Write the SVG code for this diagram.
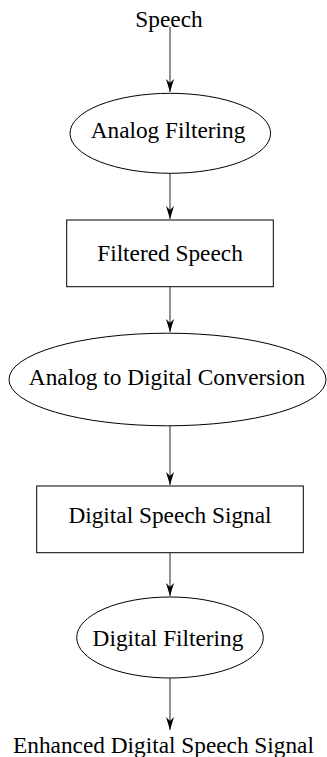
<svg xmlns="http://www.w3.org/2000/svg" width="327" height="757" viewBox="0 0 327 757">
  <style>
    .lbl { font-size: 23.3px; fill: #000; text-anchor: middle; }
    .shape { fill: #fff; stroke: #000; stroke-width: 1; }
    .edge { stroke: #666; stroke-width: 1.4; fill: none; marker-end: url(#head); }
  </style>
  <defs>
    <marker id="head" viewBox="-14 -5 15 10" refX="0" refY="0" markerWidth="15" markerHeight="10" markerUnits="userSpaceOnUse" orient="auto">
      <path d="M0,0 L-13,-4 L-9,0 L-13,4 Z" fill="#000"/>
    </marker>
  </defs>

  <g id="connectors">
    <line class="edge" x1="170" y1="27" x2="170" y2="92"/>
    <line class="edge" x1="170" y1="173" x2="170" y2="219"/>
    <line class="edge" x1="170" y1="287" x2="170" y2="332"/>
    <line class="edge" x1="170" y1="426" x2="170" y2="485"/>
    <line class="edge" x1="170" y1="553" x2="170" y2="596"/>
    <line class="edge" x1="170" y1="678" x2="170" y2="730"/>
  </g>

  <g font-family="Liberation Serif, Times New Roman, serif">
    <g id="speech">
      <text class="lbl" x="169" y="27">Speech</text>
    </g>

    <g id="analog-filtering">
      <ellipse class="shape" cx="170.3" cy="133.3" rx="100.3" ry="40"/>
      <text class="lbl" x="168" y="138.3">Analog Filtering</text>
    </g>

    <g id="filtered-speech">
      <rect class="shape" x="66.7" y="220" width="206.6" height="66.7"/>
      <text class="lbl" x="170" y="260.7">Filtered Speech</text>
    </g>

    <g id="adc">
      <ellipse class="shape" cx="167.5" cy="379.5" rx="158.5" ry="46.3"/>
      <text class="lbl" x="167" y="385">Analog to Digital Conversion</text>
    </g>

    <g id="digital-speech-signal">
      <rect class="shape" x="36.7" y="486" width="266.6" height="66.7"/>
      <text class="lbl" x="170" y="522.7">Digital Speech Signal</text>
    </g>

    <g id="digital-filtering">
      <ellipse class="shape" cx="170" cy="637.5" rx="93.3" ry="40.5"/>
      <text class="lbl" x="168" y="646">Digital Filtering</text>
    </g>

    <g id="enhanced">
      <text class="lbl" x="163.5" y="753">Enhanced Digital Speech Signal</text>
    </g>
  </g>
</svg>
